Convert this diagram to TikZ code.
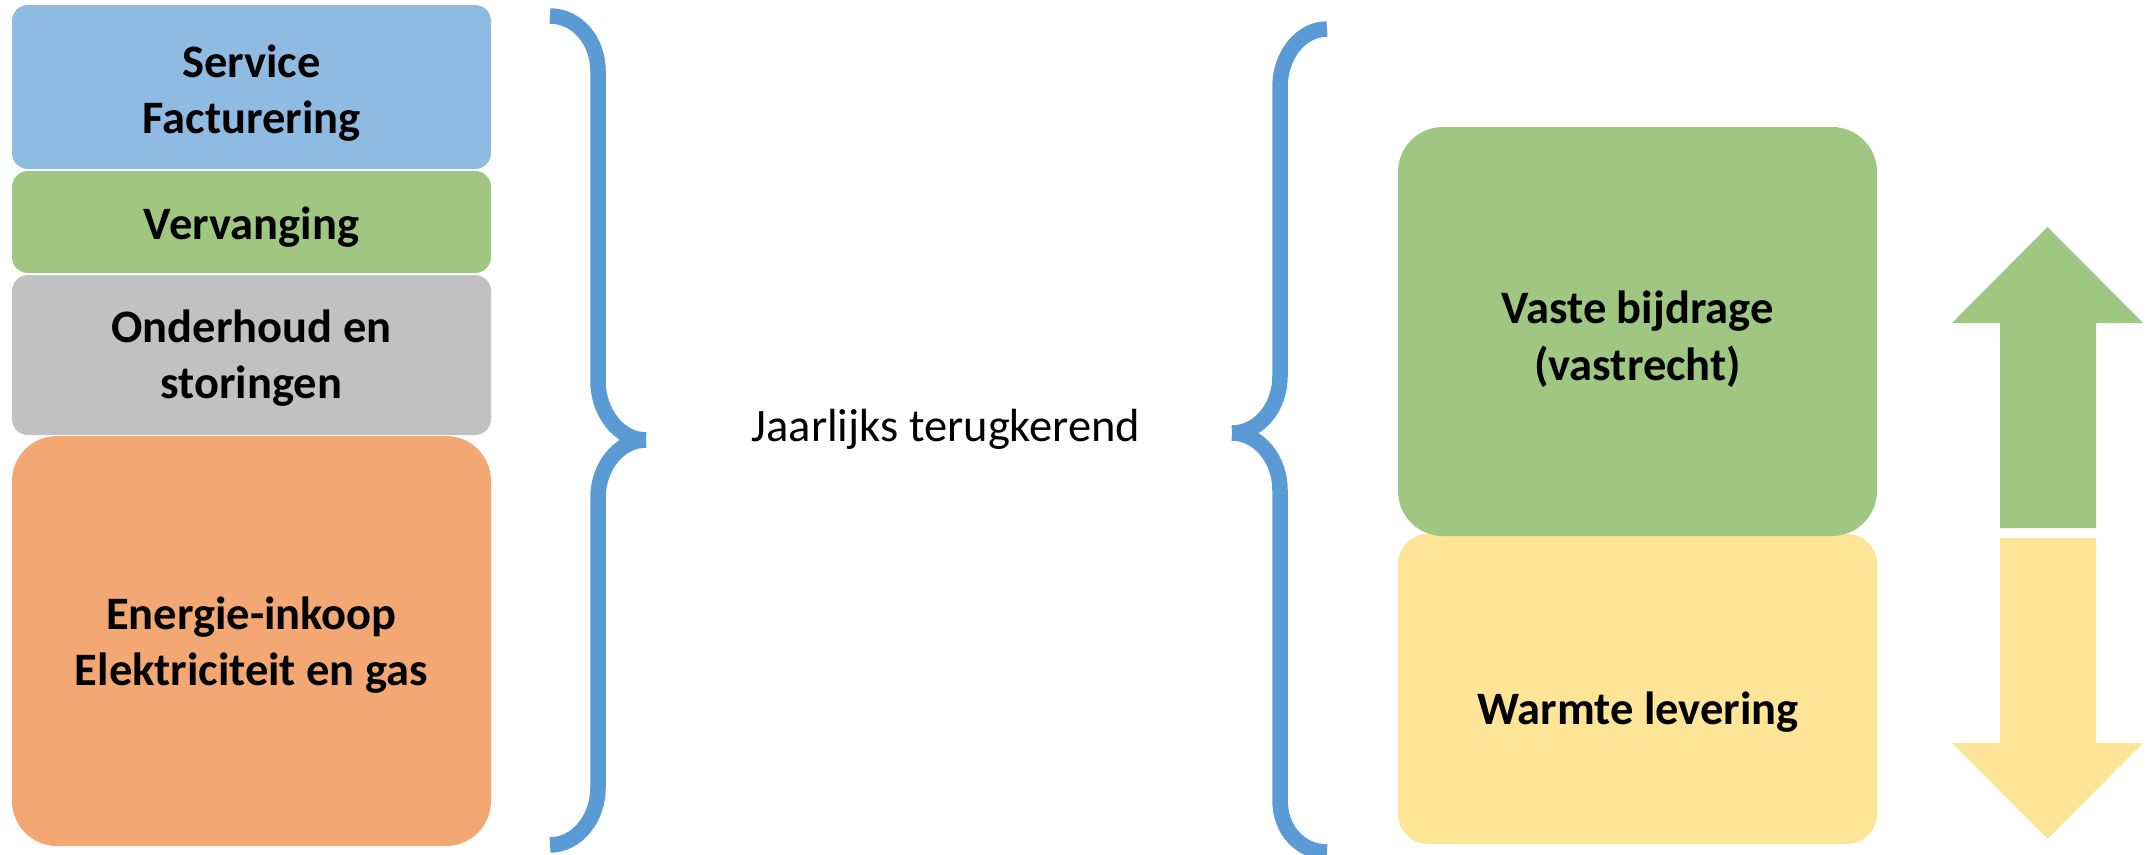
\documentclass[tikz,border=0pt]{standalone}
\usepackage{fontspec}
\setmainfont{Carlito}
\definecolor{cblue}{HTML}{8FBBE3}
\definecolor{cgreen}{HTML}{9FC782}
\definecolor{cgray}{HTML}{C1C1C1}
\definecolor{corange}{HTML}{F3A773}
\definecolor{cyellow}{HTML}{FEE496}
\definecolor{cbrace}{HTML}{5B9BD5}
\begin{document}
\begin{tikzpicture}[x=1pt,y=-1pt,
  boxshape/.style={rectangle, rounded corners=#1, inner sep=0pt, outer sep=0pt, draw=none},
  lbl/.style={inner sep=0pt, align=center, text=black, font=\bfseries\fontsize{46.5}{56.5}\selectfont},
  plainlbl/.style={inner sep=0pt, align=center, text=black, font=\fontsize{46.5}{56.5}\selectfont},
  bracestroke/.style={draw=cbrace, line width=15.5pt, line cap=butt},
  arrowshape/.style={draw=none}]
\useasboundingbox (0,0) rectangle (2154,854);
% left stack
\node[boxshape=16pt, fill=cblue, minimum width=479pt, minimum height=164pt] (bservice) at (251.5,87) {};
\node[boxshape=16pt, fill=cgreen, minimum width=479pt, minimum height=102pt] (bverv) at (251.5,222) {};
\node[boxshape=16pt, fill=cgray, minimum width=479pt, minimum height=160pt] (bonder) at (251.5,355) {};
\node[boxshape=45pt, fill=corange, minimum width=479pt, minimum height=410pt] (benergie) at (251.5,641) {};
\node[lbl] (tservice) at (251.5,93) {Service\\Facturering};
\node[lbl] (tverv) at (251.5,227) {Vervanging};
\node[lbl] (tonder) at (251.5,358) {Onderhoud en\\storingen};
\node[lbl] (tenergie) at (251.5,645) {Energie-inkoop\\Elektriciteit en gas};
% middle text
\node[plainlbl] (tjaar) at (946,429) {Jaarlijks terugkerend};
% right stack
\node[boxshape=30pt, fill=cyellow, minimum width=479pt, minimum height=310pt] (bwarm) at (1637.5,689) {};
\node[boxshape=45pt, fill=cgreen, minimum width=479pt, minimum height=409pt] (bvast) at (1637.5,331.5) {};
\node[lbl] (tvast) at (1637.5,339) {Vaste bijdrage\\(vastrecht)};
\node[lbl] (twarm) at (1638,712) {Warmte levering};
% left brace (closing)
\draw[bracestroke] (550,16) .. controls (576.5,16) and (598,40) .. (598,71)
  -- (598,381) .. controls (598,413) and (619.5,440) .. (646,440);
\draw[bracestroke] (646,440) .. controls (619.5,440) and (598,466) .. (598,498)
  -- (598,788) .. controls (598,819) and (576.5,845) .. (550,845);
% right brace (opening)
\draw[bracestroke] (1327,29) .. controls (1301,29) and (1280,55) .. (1280,87)
  -- (1280,376) .. controls (1280,408) and (1258.5,433) .. (1232,433);
\draw[bracestroke] (1232,433) .. controls (1258.5,433) and (1280,459) .. (1280,490)
  -- (1280,800) .. controls (1280,831) and (1301,852) .. (1327,852);
% arrows
\fill[cgreen] (2000,528) -- (2000,323) -- (1952,323) -- (2047.5,227) -- (2143,323) -- (2096,323) -- (2096,528) -- cycle;
\fill[cyellow] (2000,538) -- (2096,538) -- (2096,743) -- (2143,743) -- (2047.5,839) -- (1952,743) -- (2000,743) -- cycle;
\end{tikzpicture}
\end{document}
